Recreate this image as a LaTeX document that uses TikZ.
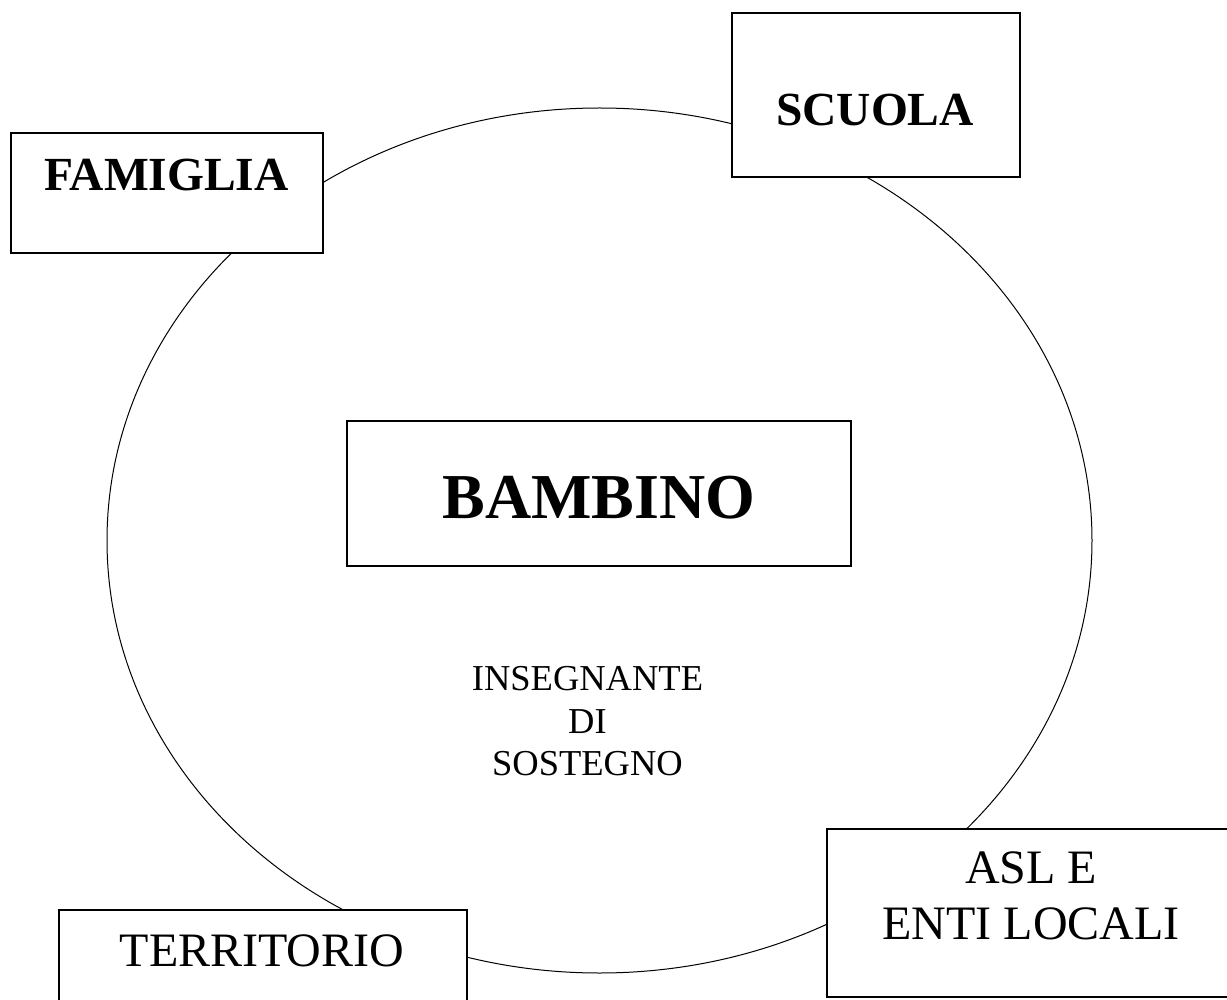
\documentclass[tikz,border=0pt]{standalone}
\usepackage{fontspec}
\setmainfont{Liberation Serif}
\usetikzlibrary{shapes.geometric}
\begin{document}
\begin{tikzpicture}[x=1pt,y=-1pt,
  boxshape/.style={draw=black, line width=1.3pt, fill=white, rectangle, inner sep=0pt},
  ring/.style={draw=black, line width=1pt, ellipse, inner sep=0pt},
  bigbold/.style={inner sep=0pt, anchor=base, font=\fontsize{47.5}{55}\selectfont\bfseries},
  bigreg/.style={inner sep=0pt, anchor=base, font=\fontsize{48}{55}\selectfont},
  midreg/.style={inner sep=0pt, anchor=base, font=\fontsize{36.5}{42.5}\selectfont},
  hugebold/.style={inner sep=0pt, anchor=base, font=\fontsize{64}{74}\selectfont\bfseries}]
\useasboundingbox (0,0) rectangle (1227,1000);
\fill[white] (0,0) rectangle (1227,1000);
% ring
\node[ring, minimum width=985pt, minimum height=865pt] (cerchio) at (599.5,540.5) {};
% boxes
\node[boxshape, minimum width=312pt, minimum height=120pt] (famiglia) at (167,193) {};
\node[boxshape, minimum width=288pt, minimum height=164pt] (scuola) at (876,95) {};
\node[boxshape, minimum width=504pt, minimum height=145pt] (bambino) at (599,493.5) {};
\node[boxshape, minimum width=408pt, minimum height=168pt] (asl) at (1031,913) {};
\node[boxshape, minimum width=408pt, minimum height=150pt] (territorio) at (263,985) {};
% texts
\node[bigbold] (tfam) at (166.5,190.5) {FAMIGLIA};
\node[bigbold] (tscu) at (875,126) {SCUOLA};
\node[hugebold] (tbam) at (599,518) {BAMBINO};
\node[bigreg] (tasl1) at (1031,883) {ASL E};
\node[bigreg] (tasl2) at (1031,939) {ENTI LOCALI};
\node[bigreg] (tter) at (262,966) {TERRITORIO};
\node[midreg] (tins1) at (587.5,690) {INSEGNANTE};
\node[midreg] (tins2) at (587.5,733) {DI};
\node[midreg] (tins3) at (587.5,775) {SOSTEGNO};
\end{tikzpicture}
\end{document}
